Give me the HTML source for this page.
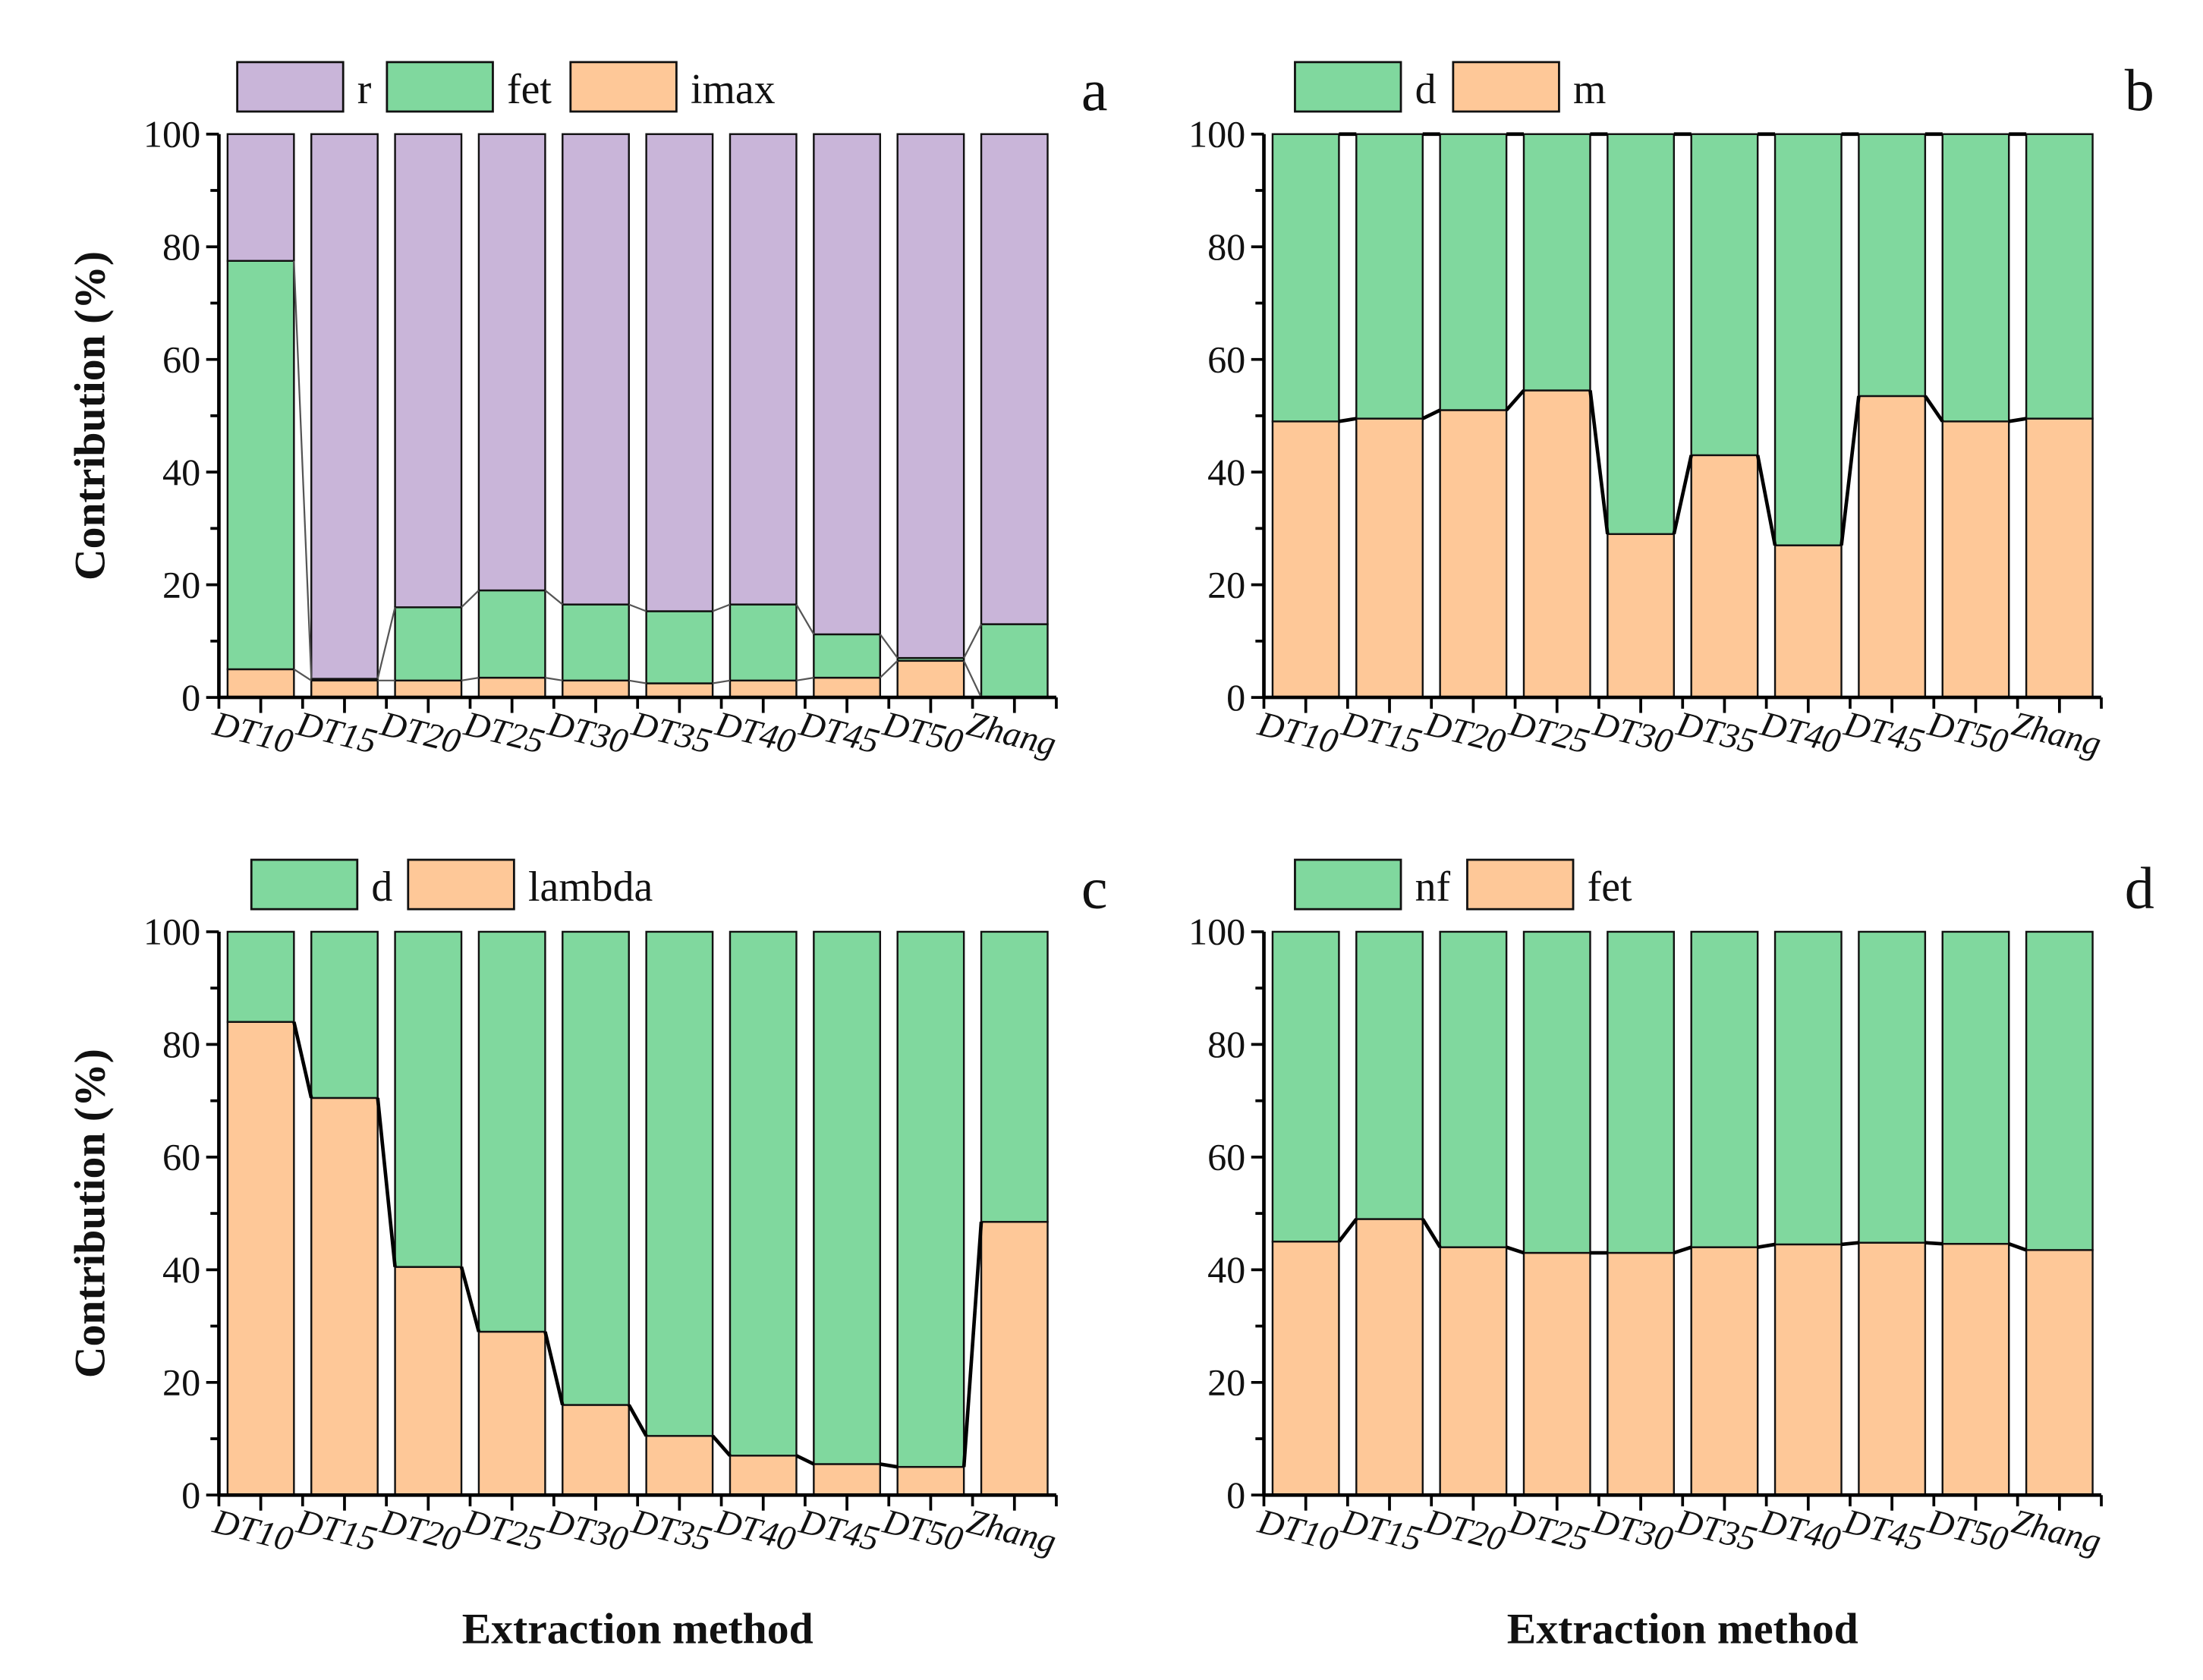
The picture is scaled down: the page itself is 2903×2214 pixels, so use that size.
<!DOCTYPE html>
<html><head><meta charset="utf-8"><style>
html,body{margin:0;padding:0;background:#fff;}
svg{display:block;}
text{font-family:"Liberation Serif",serif;fill:#111;}
</style></head><body>
<svg id="fig" xmlns="http://www.w3.org/2000/svg" width="2903" height="2214" viewBox="0 0 1560 1190" preserveAspectRatio="none"></svg>
<script>
const categories = ["DT10","DT15","DT20","DT25","DT30","DT35","DT40","DT45","DT50","Zhang"];
const yTicks = [0,20,40,60,80,100];
// panel a
const aImax = [5,3,3,3.5,3,2.5,3,3.5,6.5,0];
const aFet = [72.5,0.3,13,15.5,13.5,12.8,13.5,7.7,0.5,13];
// panel b
const bM = [49,49.5,51,54.5,29,43,27,53.5,49,49.5];
// panel c
const cLambda = [84,70.5,40.5,29,16,10.5,7,5.5,5,48.5];
// panel d
const dFet = [45,49,44,43,43,44,44.5,44.8,44.6,43.5];

const PURPLE="#c9b5d9", GREEN="#80d89e", ORANGE="#fec898";
const NS="http://www.w3.org/2000/svg";
const svg=document.getElementById('fig');
function el(tag,attrs,parent){const e=document.createElementNS(NS,tag);for(const k in attrs)e.setAttribute(k,attrs[k]);(parent||svg).appendChild(e);return e;}

function panel(key,x0,y0,series,legend,letter,lineColor,lineW,showYTitle,showXTitle,topCaps){
  const g=el('g',{});
  
  
  const W=593,H=399,yTop=y0-H;
  const step=W/categories.length,bw=47;
  const yS=v=>y0-v/100*H;
  const cx=i=>x0+step*(i+0.5);
  categories.forEach((c,i)=>{
    let base=0;
    series.forEach((s,si)=>{
      const v=s.vals?s.vals[i]:100-base;
      const r=el('rect',{x:cx(i)-bw/2,y:yS(base+v),width:bw,height:yS(base)-yS(base+v),fill:s.color,stroke:'#111','stroke-width':1.3},g);
      
      
      base+=v;
    });
  });
  let cum=categories.map(()=>0);
  series.forEach((s,si)=>{
    cum=cum.map((b,i)=>b+(s.vals?s.vals[i]:100-b));
    if(!s.vals && !topCaps) return;
    for(let i=0;i<categories.length-1;i++){
      const l=el('line',{x1:cx(i)+bw/2,y1:yS(cum[i]),x2:cx(i+1)-bw/2,y2:yS(cum[i+1]),stroke:lineColor,'stroke-width':lineW},g);
      
      
    }
  });
  const ax=el('line',{x1:x0,y1:yTop,x2:x0,y2:y0+1,stroke:'#000','stroke-width':2.5},g);
  
  const bx=el('line',{x1:x0-1,y1:y0,x2:x0+W,y2:y0,stroke:'#000','stroke-width':2.5},g);
  
  for(let v=0;v<=100;v+=10){
    el('line',{x1:x0-(v%20===0?9:6),y1:yS(v),x2:x0,y2:yS(v),stroke:'#000','stroke-width':2},g);
  }
  yTicks.forEach(v=>{
    const t=el('text',{x:x0-13,y:yS(v)+9,'text-anchor':'end','font-size':27},g);
    t.textContent=v;
    
  });
  for(let k=0;k<=2*categories.length;k++){
    el('line',{x1:x0+k*step/2,y1:y0,x2:x0+k*step/2,y2:y0+(k%2?11:8),stroke:'#000','stroke-width':2},g);
  }
  categories.forEach((c,i)=>{
    const tx=cx(i)-35,ty=y0+26;
    const t=el('text',{x:tx,y:ty,'font-size':25,'font-style':'italic',transform:`rotate(14 ${tx} ${ty})`},g);
    t.textContent=c;
    
  });
  legend.forEach(L=>{
    const r=el('rect',{x:L.x,y:yTop-51,width:75,height:35,fill:L.color,stroke:'#111','stroke-width':1.5},g);
    
    const t=el('text',{x:L.x+85,y:yTop-22,'font-size':30},g);
    t.textContent=L.label;
    
  });
  const lt=el('text',{x:x0+W+27,y:yTop-17,'text-anchor':'middle','font-size':42},g);
  lt.textContent=letter;
  if(showYTitle){
    const t=el('text',{x:0,y:0,'font-size':31,'font-weight':'bold','text-anchor':'middle',transform:`translate(74 ${y0-H/2}) rotate(-90)`},g);
    t.textContent='Contribution (%)';
  }
  if(showXTitle){
    const t=el('text',{x:x0+W/2,y:y0+105,'font-size':31,'font-weight':'bold','text-anchor':'middle'},g);
    t.textContent='Extraction method';
  }
}
panel('a',155,494,[{name:'imax',vals:aImax,color:ORANGE},{name:'fet',vals:aFet,color:GREEN},{name:'r',color:PURPLE}],
  [{x:168,label:'r',color:PURPLE},{x:274,label:'fet',color:GREEN},{x:404,label:'imax',color:ORANGE}],'a','#555',1.2,true,false,false);
panel('b',895,494,[{name:'m',vals:bM,color:ORANGE},{name:'d',color:GREEN}],
  [{x:917,label:'d',color:GREEN},{x:1029,label:'m',color:ORANGE}],'b','#000',2.5,false,false,true);
panel('c',155,1059,[{name:'lambda',vals:cLambda,color:ORANGE},{name:'d',color:GREEN}],
  [{x:178,label:'d',color:GREEN},{x:289,label:'lambda',color:ORANGE}],'c','#000',2.5,true,true,false);
panel('d',895,1059,[{name:'fet',vals:dFet,color:ORANGE},{name:'nf',color:GREEN}],
  [{x:917,label:'nf',color:GREEN},{x:1039,label:'fet',color:ORANGE}],'d','#000',2.5,false,true,false);
</script>
</body></html>
